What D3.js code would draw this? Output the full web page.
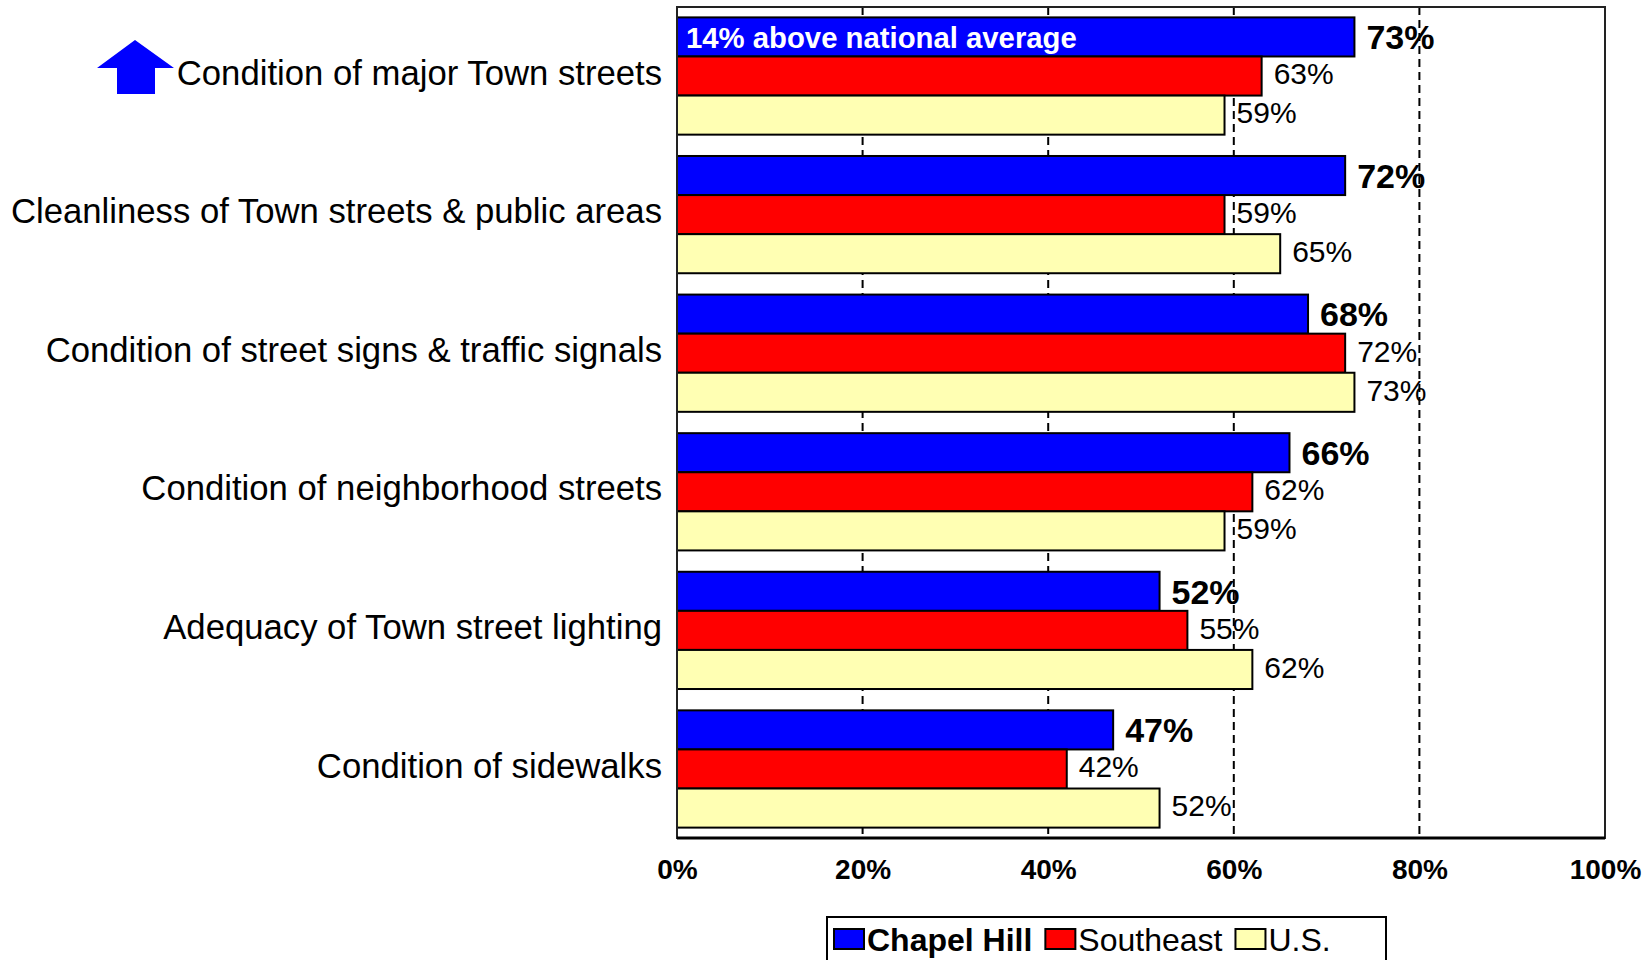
<!DOCTYPE html>
<html>
<head>
<meta charset="utf-8">
<script src="https://cdn.jsdelivr.net/npm/d3@7"></script>
<style>
  html, body { margin: 0; padding: 0; background: #fff; }
  svg { display: block; font-family: "Liberation Sans", Arial, sans-serif; }
</style>
</head>
<body>
<svg id="chart" width="1650" height="960"></svg>
<script>
// ---- data ----
const categories = [
  "Condition of major Town streets",
  "Cleanliness of Town streets & public areas",
  "Condition of street signs & traffic signals",
  "Condition of neighborhood streets",
  "Adequacy of Town street lighting",
  "Condition of sidewalks"
];
const seriesNames = ["Chapel Hill", "Southeast", "U.S."];
const chapelHill = [73, 72, 68, 66, 52, 47];
const southeast  = [63, 59, 72, 62, 55, 42];
const us         = [59, 65, 73, 59, 62, 52];
const xTicks = [0, 20, 40, 60, 80, 100];
const gridTicks = [20, 40, 60, 80];
const annotationText = "14% above national average";
const annotationCategory = "Condition of major Town streets";
const highlightCategory = "Condition of major Town streets";
const seriesColors = ["#0000FF", "#FF0000", "#FFFFB3"];

// ---- build ----
const seriesValues = [chapelHill, southeast, us];
const rows = categories.map((c, i) => ({
  category: c,
  values: seriesNames.map((s, j) => ({ series: s, idx: j, value: seriesValues[j][i] }))
}));

const svg = d3.select("#chart");
const pLeft = 677, pRight = 1605, pTop = 7, pBottom = 838;

const x = d3.scaleLinear().domain([0, 100]).range([pLeft, pRight]);
const y0 = d3.scaleBand().domain(categories).range([pTop, pBottom])
  .paddingInner(0.154).paddingOuter(0.075);
const y1 = d3.scaleBand().domain(seriesNames).range([0, y0.bandwidth()]);
const color = d3.scaleOrdinal().domain(seriesNames).range(seriesColors);

// gridlines (dashed)
svg.append("g").selectAll("line").data(gridTicks).join("line")
  .attr("x1", d => x(d)).attr("x2", d => x(d))
  .attr("y1", pTop).attr("y2", pBottom)
  .attr("stroke", "#000").attr("stroke-width", 2)
  .attr("stroke-dasharray", "8,5");

// bars
const groups = svg.append("g").selectAll("g").data(rows).join("g")
  .attr("transform", d => `translate(0,${y0(d.category)})`);

groups.selectAll("rect").data(d => d.values).join("rect")
  .attr("x", x(0))
  .attr("y", d => y1(d.series))
  .attr("width", d => x(d.value) - x(0))
  .attr("height", y1.bandwidth())
  .attr("fill", d => color(d.series))
  .attr("stroke", "#000")
  .attr("stroke-width", 2);

// value labels
groups.selectAll("text.val").data(d => d.values).join("text")
  .attr("class", "val")
  .attr("x", d => x(d.value) + 12)
  .attr("y", d => y1(d.series) + y1.bandwidth() / 2)
  .attr("dy", d => d.idx === 0 ? "0.36em" : "0.28em")
  .attr("font-size", d => d.idx === 0 ? 34 : 30)
  .attr("font-weight", d => d.idx === 0 ? "bold" : "normal")
  .attr("fill", "#000")
  .text(d => d.value + "%");

// annotation inside first blue bar
svg.append("text")
  .attr("x", x(0) + 9)
  .attr("y", y0(annotationCategory) + y1(seriesNames[0]) + y1.bandwidth() / 2)
  .attr("dy", "0.38em")
  .attr("font-size", 29.3)
  .attr("font-weight", "bold")
  .attr("fill", "#fff")
  .text(annotationText);

// category labels
svg.append("g").selectAll("text").data(categories).join("text")
  .attr("x", 662)
  .attr("y", d => y0(d) + y0.bandwidth() / 2)
  .attr("dy", "0.25em")
  .attr("text-anchor", "end")
  .attr("font-size", 34.7)
  .attr("fill", "#000")
  .text(d => d);

// blue up arrow next to highlighted category
const ay = y0(highlightCategory) + y0.bandwidth() / 2 - 3;
svg.append("path")
  .attr("d", `M135,${ay - 33} L174,${ay - 5} L155,${ay - 5} L155,${ay + 21} L117,${ay + 21} L117,${ay - 5} L97,${ay - 5} Z`)
  .attr("fill", "#0000FF");

// frame
svg.append("rect")
  .attr("x", pLeft).attr("y", pTop)
  .attr("width", pRight - pLeft).attr("height", pBottom - pTop)
  .attr("fill", "none").attr("stroke", "#222").attr("stroke-width", 2);
svg.append("line")
  .attr("x1", pLeft).attr("x2", pRight).attr("y1", pBottom).attr("y2", pBottom)
  .attr("stroke", "#000").attr("stroke-width", 3);

// x axis tick labels
const xAxis = d3.axisBottom(x).tickValues(xTicks).tickSize(0).tickPadding(0)
  .tickFormat(d => d + "%");
const ax = svg.append("g").attr("transform", `translate(0,${pBottom})`).call(xAxis);
ax.select(".domain").remove();
ax.selectAll("text")
  .attr("y", 31)
  .attr("dy", "0.36em")
  .attr("font-size", 28)
  .attr("font-weight", "bold")
  .attr("font-family", '"Liberation Sans", Arial, sans-serif')
  .attr("fill", "#000");

// legend
const lg = svg.append("g");
lg.append("rect")
  .attr("x", 827).attr("y", 917).attr("width", 559).attr("height", 70)
  .attr("fill", "#fff").attr("stroke", "#000").attr("stroke-width", 2);
let cx = 834;
seriesNames.forEach((s, i) => {
  lg.append("rect")
    .attr("x", cx).attr("y", 929).attr("width", 30).attr("height", 20)
    .attr("fill", color(s)).attr("stroke", "#000").attr("stroke-width", 2);
  const t = lg.append("text")
    .attr("x", cx + 33).attr("y", 939).attr("dy", "0.36em")
    .attr("font-size", 32)
    .attr("font-weight", i === 0 ? "bold" : "normal")
    .attr("fill", "#000")
    .text(s);
  cx += 33 + t.node().getComputedTextLength() + 13;
});
</script>
</body>
</html>
